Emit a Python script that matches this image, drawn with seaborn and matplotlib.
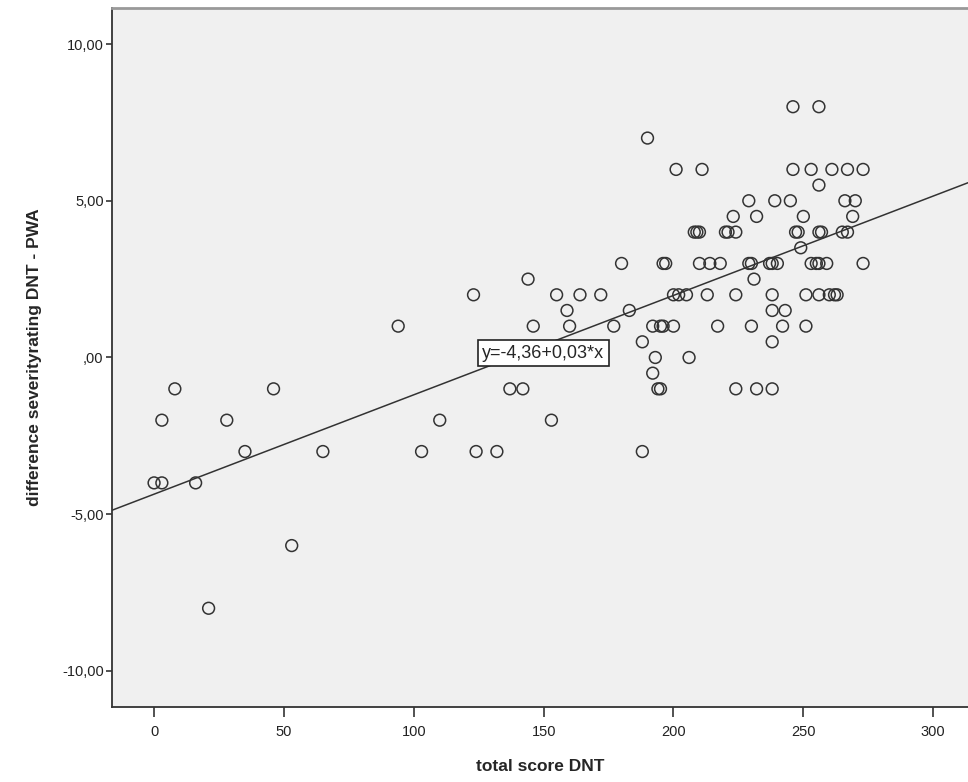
import matplotlib
matplotlib.use("Agg")
import matplotlib.pyplot as plt
import pandas as pd
import seaborn as sns

# values
total_score = [0, 3, 16, 3, 8, 21, 28, 35, 46, 53, 65, 94, 103, 110, 124, 132,
               123, 137, 142, 144, 146, 153, 155, 159, 160, 164, 172, 177, 180, 183,
               188, 188, 190, 192, 192, 193, 194, 195, 195, 196, 196, 197, 200, 200,
               202, 201, 205, 206, 208, 209, 210, 210, 211, 213, 214, 217, 218, 220,
               221, 223, 224, 224, 224, 229, 229, 230, 230, 231, 232, 232, 237, 238,
               240, 238, 238, 238, 238, 239, 242, 243, 245, 246, 246, 247, 248, 249,
               250, 251, 251, 253, 253, 255, 256, 256, 256, 257, 256, 256, 259, 260,
               261, 262, 263, 265, 267, 266, 267, 269, 270, 273, 273]
difference = [-4, -4, -4, -2, -1, -8, -2, -3, -1, -6, -3, 1, -3, -2, -3, -3,
              2, -1, -1, 2.5, 1, -2, 2, 1.5, 1, 2, 2, 1, 3, 1.5,
              0.5, -3, 7, 1, -0.5, 0, -1, -1, 1, 1, 3, 3, 1, 2,
              2, 6, 2, 0, 4, 4, 4, 3, 6, 2, 3, 1, 3, 4,
              4, 4.5, 4, 2, -1, 5, 3, 3, 1, 2.5, 4.5, -1, 3, 3,
              3, 2, 1.5, 0.5, -1, 5, 1, 1.5, 5, 6, 8, 4, 4, 3.5,
              4.5, 2, 1, 6, 3, 3, 3, 2, 4, 4, 5.5, 8, 3, 2,
              6, 2, 2, 4, 4, 5, 6, 4.5, 5, 6, 3]

# fit line as shown in the chart
fit_intercept = -4.36
fit_slope = 0.0317
fit_label = "y=-4,36+0,03*x"

x_ticks = [0, 50, 100, 150, 200, 250, 300]
y_ticks = [-10, -5, 0, 5, 10]
y_tick_labels = ["-10,00", "-5,00", ",00", "5,00", "10,00"]

df = pd.DataFrame({"total score DNT": total_score,
                   "difference severityrating DNT - PWA": difference})

sns.set_theme(style="white")
plt.rcParams["font.family"] = ["Liberation Sans", "DejaVu Sans"]

fig = plt.figure(figsize=(9.68, 7.82), dpi=100)
ax = fig.add_axes([0.1157, 0.0959, 0.8843, 0.8939])
ax.set_facecolor("#f0f0f0")

sns.scatterplot(data=df, x="total score DNT", y="difference severityrating DNT - PWA",
                ax=ax, s=72, color="#333333", edgecolor="#333333", linewidth=1.1, zorder=3)
ax.collections[-1].set_facecolor("none")

# regression line and its equation box
ax.axline((0, fit_intercept), slope=fit_slope, color="#333333", lw=1.1, zorder=2)
ax.text(149.8, 0.13, fit_label, ha="center", va="center", fontsize=13, zorder=4,
        bbox=dict(boxstyle="square,pad=0.25", fc="white", ec="#222222", lw=1.2))

ax.set_xlim(-16.2, 313.4)
ax.set_ylim(-11.15, 11.15)
ax.set_xticks(x_ticks)
ax.set_yticks(y_ticks)
ax.set_yticklabels(y_tick_labels)
ax.tick_params(axis="both", direction="out", width=1.2, color="#333333",
               labelsize=10.5, labelcolor="#222222", left=True, bottom=True)
ax.tick_params(axis="y", length=4, pad=2)
ax.tick_params(axis="x", length=7, pad=6)

ax.spines["right"].set_visible(False)
ax.spines["top"].set_color("#999999")
ax.spines["top"].set_linewidth(2)
for side in ["left", "bottom"]:
    ax.spines[side].set_color("#333333")
    ax.spines[side].set_linewidth(1.3)

ax.set_xlabel("total score DNT", fontsize=12.5, fontweight="bold", labelpad=14)
ax.set_ylabel("difference severityrating DNT - PWA", fontsize=12.5, fontweight="bold", labelpad=14)

fig.savefig("out.png", dpi=100)
